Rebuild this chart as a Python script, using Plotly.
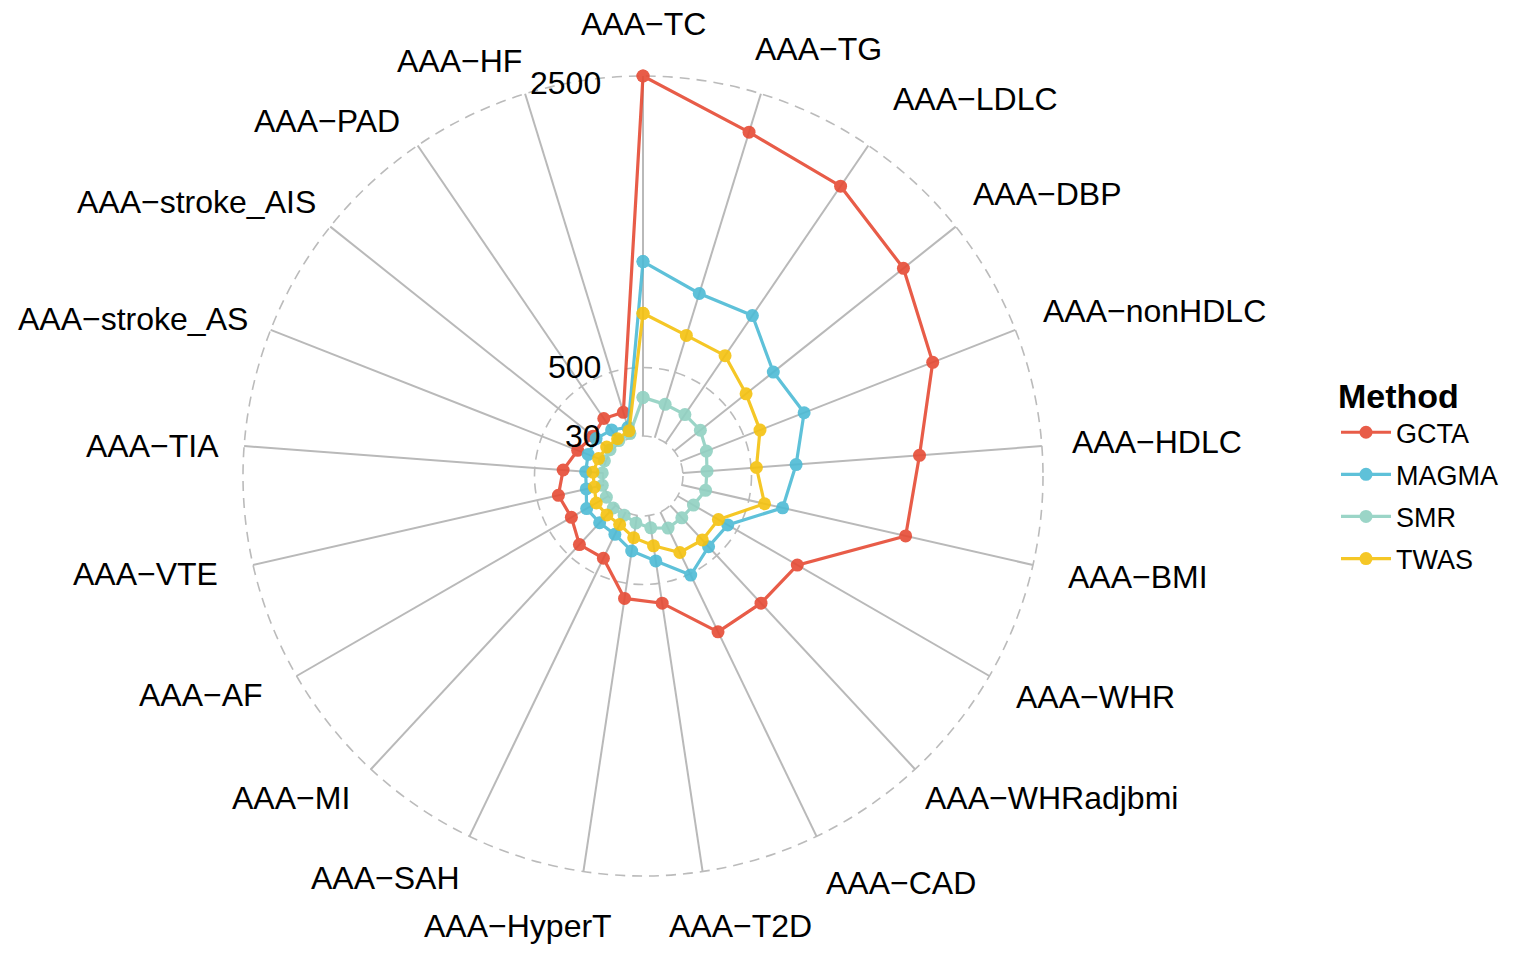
import numpy as np
import plotly.graph_objects as go

# ---- data -------------------------------------------------------------
categories = [
    "AAA-TC", "AAA-TG", "AAA-LDLC", "AAA-DBP", "AAA-nonHDLC", "AAA-HDLC",
    "AAA-BMI", "AAA-WHR", "AAA-WHRadjbmi", "AAA-CAD", "AAA-T2D", "AAA-HyperT",
    "AAA-SAH", "AAA-MI", "AAA-AF", "AAA-VTE", "AAA-TIA", "AAA-stroke_AS",
    "AAA-stroke_AIS", "AAA-PAD", "AAA-HF",
]
methods = ["GCTA", "MAGMA", "SMR", "TWAS"]

gcta = [2500, 2224, 2162, 2041, 1891, 1658, 1604, 978, 946, 942, 638, 605,
        382, 397, 323, 351, 305, 237, 194, 233, 213]
magma = [1227, 1066, 1088, 899, 943, 809, 738, 427, 417, 510, 345, 276,
         200, 193, 202, 155, 150, 160, 167, 138, 105]
smr = [295, 270, 266, 259, 223, 196, 196, 155, 147, 152, 115, 81,
       54, 55, 46, 42, 36, 40, 45, 50, 60]
twas = [872, 765, 755, 660, 618, 536, 611, 353, 354, 338, 240, 184,
        125, 120, 126, 98, 100, 83, 74, 65, 80]

grid_values = [30, 500, 2500]

# ---- styling ----------------------------------------------------------
colors = ["#E64B35", "#4DBBD5", "#91D1C2", "#F5C20F"]
FONT = "Liberation Sans, Arial, sans-serif"

W, H = 1527, 959
CX, CY, R_OUT = 643, 476, 400          # radar centre / outer radius in px
g_min, g_max = grid_values[0], grid_values[-1]
centre_y = g_min - (g_max - g_min) / 9  # inner offset, as in ggradar
hole = (g_min - centre_y) / (g_max - centre_y)
R_IN = hole * R_OUT


def r_px(v):
    return R_IN + (v - g_min) / (g_max - g_min) * (R_OUT - R_IN)


def px_x(x):
    return x / W


def px_y(y):
    return 1 - y / H


fig = go.Figure()
series = [gcta, magma, smr, twas]
for name, vals, col in zip(methods, series, colors):
    fig.add_trace(go.Scatterpolar(
        r=vals + vals[:1],
        theta=categories + categories[:1],
        mode="lines+markers",
        name=name,
        legendgroup=name,
        line=dict(color=col, width=3.2),
        marker=dict(color=col, size=13),
        opacity=0.9,
        cliponaxis=False,
    ))

# dashed grid circles at the grid values
shapes = []
for v in grid_values:
    rr = r_px(v)
    shapes.append(dict(
        type="circle", xref="paper", yref="paper", layer="below",
        x0=px_x(CX - rr), x1=px_x(CX + rr),
        y0=px_y(CY + rr), y1=px_y(CY - rr),
        line=dict(color="#BBBBBB", width=1.6, dash="10px,7px"),
    ))

fig.update_layout(
    width=W, height=H,
    margin=dict(l=0, r=0, t=0, b=0),
    paper_bgcolor="white",
    plot_bgcolor="white",
    font=dict(family=FONT, color="black"),
    shapes=shapes,
    polar=dict(
        domain=dict(x=[px_x(CX - R_OUT), px_x(CX + R_OUT)],
                    y=[px_y(CY + R_OUT), px_y(CY - R_OUT)]),
        bgcolor="rgba(0,0,0,0)",
        hole=hole,
        radialaxis=dict(
            range=[g_min, g_max],
            showticklabels=False,
            ticks="",
            showline=False,
            showgrid=False,
        ),
        angularaxis=dict(
            type="category",
            categoryarray=categories,
            direction="clockwise",
            rotation=90,
            showticklabels=False,
            ticks="",
            showline=False,
            showgrid=True,
            gridcolor="#B9B9B9",
            gridwidth=1.5,
        ),
    ),
    legend=dict(
        x=px_x(1336), y=px_y(364), xanchor="left", yanchor="top",
        title=dict(text="<b>Method</b>", font=dict(size=34, family=FONT)),
        font=dict(size=27, family=FONT),
        tracegroupgap=4,
        itemwidth=50,
        bgcolor="rgba(0,0,0,0)",
    ),
)

annotations = []
# radial grid labels beside the vertical spoke
for v in grid_values:
    annotations.append(dict(
        x=px_x(CX - 40), y=px_y(max(CY - r_px(v), 83)),
        xref="paper", yref="paper",
        text=str(v), showarrow=False, xanchor="right", yanchor="middle",
        font=dict(size=32, family=FONT, color="black"),
    ))

# axis (category) labels around the outer ring, with small per-label nudges
nudge = {
    "AAA-TG": (-16, 5), "AAA-LDLC": (7, -4), "AAA-DBP": (-7, 0),
    "AAA-BMI": (6, 0), "AAA-WHR": (0, -5), "AAA-WHRadjbmi": (-11, -9),
    "AAA-CAD": (-5, 0), "AAA-T2D": (-40, 3), "AAA-HyperT": (35, 3),
    "AAA-SAH": (5, -5), "AAA-MI": (0, -9), "AAA-AF": (-7, -7),
    "AAA-VTE": (-6, -3), "AAA-TIA": (5, 4), "AAA-stroke_AS": (5, 8),
    "AAA-stroke_AIS": (10, 8), "AAA-PAD": (0, 18), "AAA-HF": (7, 17),
}
n = len(categories)
for i, cat in enumerate(categories):
    ang = 2 * np.pi * i / n
    s, c = np.sin(ang), np.cos(ang)
    if s > 0.05:
        anchor = "left"
    elif s < -0.05:
        anchor = "right"
    else:
        anchor = "center"
    dx, dy = nudge.get(cat, (0, 0))
    x = CX + 428 * s + dx
    y = CY - 452 * c + dy
    annotations.append(dict(
        x=px_x(x), y=px_y(y), xref="paper", yref="paper",
        text=cat.replace("-", "\u2212"), showarrow=False,
        xanchor=anchor, yanchor="middle",
        font=dict(size=32, family=FONT, color="black"),
    ))

fig.update_layout(annotations=annotations)
fig.write_html("out.html")
